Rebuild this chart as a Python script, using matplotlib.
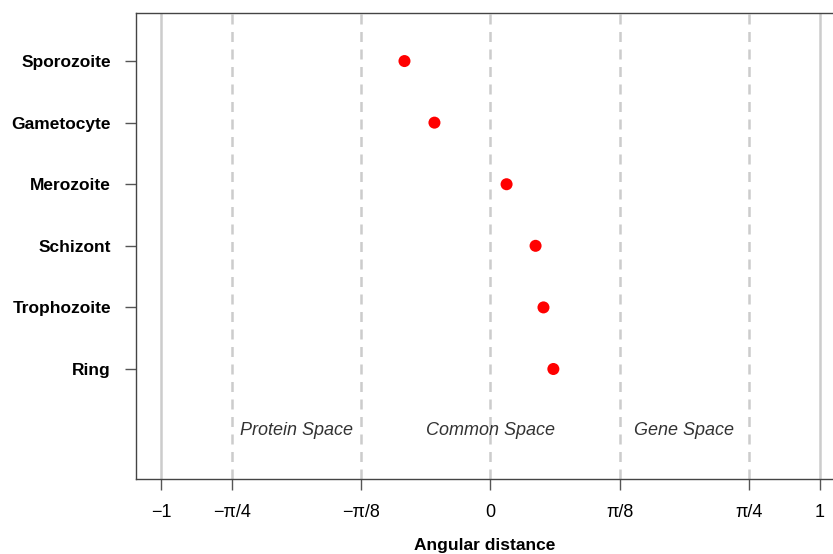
import numpy as np
import matplotlib
matplotlib.use("Agg")
import matplotlib.pyplot as plt

plt.rcParams['font.family'] = ['Liberation Sans', 'DejaVu Sans']

stages = ["Ring", "Trophozoite", "Schizont", "Merozoite", "Gametocyte", "Sporozoite"]
angles = [0.191, 0.161, 0.137, 0.049, -0.170, -0.261]

tick_vals = [-1, -np.pi / 4, -np.pi / 8, 0, np.pi / 8, np.pi / 4, 1]
tick_labels = ["\u22121", "\u2212\u03c0/4", "\u2212\u03c0/8", "0", "\u03c0/8", "\u03c0/4", "1"]

space_names = ["Protein Space", "Common Space", "Gene Space"]
space_pos = [-3 * np.pi / 16, 0, 3 * np.pi / 16]

fig = plt.figure(figsize=(8.33, 5.54), dpi=100)
ax = fig.add_axes([0.1633, 0.1354, 0.8367, 0.8411])

ypos = np.arange(1, len(stages) + 1)

# reference lines
for v in [-1, 1]:
    ax.axvline(v, color="#cccccc", lw=1.8, zorder=1)
for v in [-np.pi / 4, -np.pi / 8, 0, np.pi / 8, np.pi / 4]:
    ax.axvline(v, color="#cccccc", lw=1.8, ls=(0, (4, 3)), zorder=1)

ax.scatter(angles, ypos, s=75, color="#ff0000", zorder=3, edgecolors="none")

for name, x in zip(space_names, space_pos):
    ax.text(x, 0, name, ha="center", va="center", style="italic",
            fontsize=13, color="#333333")

ax.set_xlim(-1.076, 1.040)
ax.set_ylim(-0.786, 6.78)

ax.set_yticks(ypos)
ax.set_yticklabels(stages, fontweight="bold", fontsize=12.5)
ax.set_xticks(tick_vals)
ax.set_xticklabels(tick_labels, fontsize=13)
ax.tick_params(axis="both", length=8, width=1, color="#555555")
ax.tick_params(axis="y", pad=10)
ax.tick_params(axis="x", pad=10)

ax.spines["right"].set_visible(False)
for s in ["left", "top", "bottom"]:
    ax.spines[s].set_color("#444444")
    ax.spines[s].set_linewidth(1)

ax.set_xlabel("Angular distance", fontweight="bold", fontsize=12.5, labelpad=12)

fig.savefig("out.png", dpi=100)
